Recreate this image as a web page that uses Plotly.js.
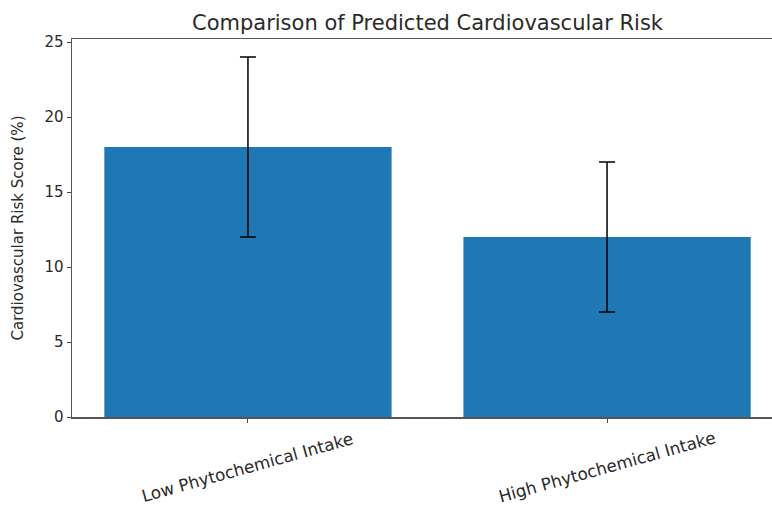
<!DOCTYPE html>
<html>
<head>
<meta charset="utf-8">
<script src="https://cdn.plot.ly/plotly-3.0.1.min.js"></script>
<style>
html,body{margin:0;padding:0;overflow:hidden;background:#fff;}
#chart{width:783px;height:508px;}
</style>
</head>
<body>
<div id="chart"></div>
<script>
const categories = ["Low Phytochemical Intake", "High Phytochemical Intake"];
const riskMeans = [18, 12];
const riskErrors = [6, 5];
const yTicks = [0, 5, 10, 15, 20, 25];

const FONT = "DejaVu Sans, sans-serif";
const xIdx = categories.map((c, i) => i);

const trace = {
  type: "bar",
  x: xIdx,
  y: riskMeans,
  width: 0.8,
  marker: {color: "#1f77b4", line: {width: 0}},
  error_y: {type: "data", array: riskErrors, visible: true, color: "#000000", thickness: 1.5, width: 8},
  hoverinfo: "skip"
};

const annotations = categories.map((c, i) => ({
  x: i, xref: "x", y: -0.132, yref: "paper",
  text: c, showarrow: false, textangle: -15.5,
  xanchor: "center", yanchor: "middle",
  font: {family: FONT, size: 16.8, color: "#2a2a2a"}
}));

const layout = {
  width: 783, height: 508,
  margin: {l: 72, r: 0, t: 39, b: 91, pad: 0},
  paper_bgcolor: "#ffffff", plot_bgcolor: "#ffffff",
  showlegend: false,
  title: {text: "Comparison of Predicted Cardiovascular Risk", x: 0.5, xref: "paper", xanchor: "center",
          y: 1, yref: "paper", yanchor: "bottom", pad: {b: 9},
          font: {family: FONT, size: 21, color: "#2a2a2a"}},
  xaxis: {range: [-0.49, 1.49], tickvals: xIdx, showticklabels: false,
          ticks: "outside", ticklen: 4, tickcolor: "#444", showgrid: false, zeroline: false,
          showline: true, linecolor: "#555", linewidth: 1.5, mirror: true, fixedrange: true},
  yaxis: {range: [0, 25.2], tickvals: yTicks, ticktext: yTicks.map(String),
          ticks: "outside", ticklen: 4, tickcolor: "#444", showgrid: false, zeroline: false,
          showline: true, linecolor: "#555", linewidth: 1.5, mirror: true,
          tickfont: {family: FONT, size: 15, color: "#2a2a2a"},
          title: {text: "Cardiovascular Risk Score (%)", standoff: 17, font: {family: FONT, size: 15, color: "#2a2a2a"}},
          automargin: false, fixedrange: true},
  annotations: annotations
};

Plotly.newPlot("chart", [trace], layout, {displayModeBar: false, staticPlot: true});
</script>
</body>
</html>
